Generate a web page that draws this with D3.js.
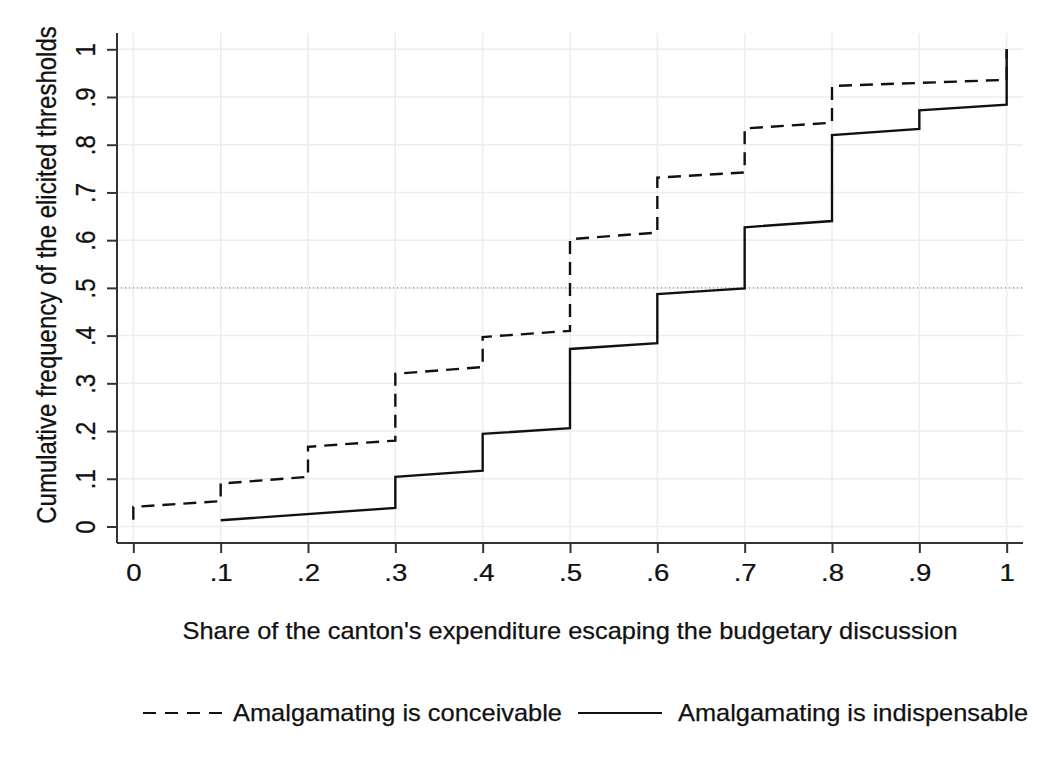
<!DOCTYPE html>
<html>
<head>
<meta charset="utf-8">
<script src="https://cdn.jsdelivr.net/npm/d3@7"></script>
<style>
  body { margin: 0; background: #fff; }
  text { font-family: "Liberation Sans", Arial, Helvetica, sans-serif; fill: #111; stroke: #111; stroke-width: 0.25px; }
</style>
</head>
<body>
<svg id="chart" width="1048" height="767"></svg>
<script>
// ticks shared by both axes
var tickValues = [0, 0.1, 0.2, 0.3, 0.4, 0.5, 0.6, 0.7, 0.8, 0.9, 1];
var tickLabels = ['0', '.1', '.2', '.3', '.4', '.5', '.6', '.7', '.8', '.9', '1'];

// "conceivable" series: jump positions, value just before and just after each jump
var conceivableX = [0, 0.1, 0.2, 0.3, 0.4, 0.5, 0.6, 0.7, 0.8, 1.0];
var conceivableBefore = [0.014, 0.053, 0.104, 0.180, 0.334, 0.410, 0.616, 0.742, 0.846, 0.936];
var conceivableAfter = [0.041, 0.090, 0.167, 0.320, 0.397, 0.602, 0.731, 0.834, 0.923, 1.0];

// "indispensable" series
var indispensableX = [0.1, 0.3, 0.4, 0.5, 0.6, 0.7, 0.8, 0.9, 1.0];
var indispensableBefore = [0.013, 0.039, 0.117, 0.206, 0.384, 0.499, 0.640, 0.833, 0.884];
var indispensableAfter = [0.013, 0.104, 0.194, 0.372, 0.487, 0.627, 0.820, 0.872, 1.0];

var seriesNames = ['Amalgamating is conceivable', 'Amalgamating is indispensable'];
var referenceLevel = 0.5;

var margin = { left: 117, right: 1023, top: 33, bottom: 543 };
var stretch = 1.15; // the source picture is a little wider than tall

var svg = d3.select('#chart');

var x = d3.scaleLinear().domain([-0.0187, 1.0187]).range([margin.left, margin.right]);
var y = d3.scaleLinear().domain([-0.0346, 1.0341]).range([margin.bottom, margin.top]);

// grid
var grid = svg.append('g');
grid.selectAll('line.h').data(tickValues).enter().append('line')
  .attr('x1', margin.left).attr('x2', margin.right)
  .attr('y1', function (d) { return y(d); }).attr('y2', function (d) { return y(d); })
  .attr('stroke', '#e8eef1').attr('stroke-width', 1.5);
grid.selectAll('line.v').data(tickValues).enter().append('line')
  .attr('y1', margin.top).attr('y2', margin.bottom)
  .attr('x1', function (d) { return x(d); }).attr('x2', function (d) { return x(d); })
  .attr('stroke', '#e8eef1').attr('stroke-width', 1.5);

// dotted reference at .5
svg.append('line')
  .attr('x1', margin.left).attr('x2', margin.right)
  .attr('y1', y(referenceLevel)).attr('y2', y(referenceLevel))
  .attr('stroke', '#8a8a8a').attr('stroke-width', 1.2)
  .attr('stroke-dasharray', '1,3');

// build step path points from jump arrays
function stepPoints(xs, before, after) {
  var pts = [];
  xs.forEach(function (xv, i) {
    pts.push([xv, before[i]]);
    pts.push([xv, after[i]]);
  });
  return pts;
}

var line = d3.line()
  .x(function (d) { return x(d[0]); })
  .y(function (d) { return y(d[1]); });

svg.append('path')
  .datum(stepPoints(conceivableX, conceivableBefore, conceivableAfter))
  .attr('d', line)
  .attr('fill', 'none').attr('stroke', '#111').attr('stroke-width', 2.4)
  .attr('stroke-dasharray', '13,8');

svg.append('path')
  .datum(stepPoints(indispensableX, indispensableBefore, indispensableAfter))
  .attr('d', line)
  .attr('fill', 'none').attr('stroke', '#111').attr('stroke-width', 2.4);

// axes
var xAxis = d3.axisBottom(x).tickValues(tickValues)
  .tickFormat(function (d, i) { return tickLabels[i]; })
  .tickSize(10).tickSizeOuter(0);
var gx = svg.append('g').attr('transform', 'translate(0,' + margin.bottom + ')').call(xAxis);
gx.select('.domain').attr('stroke', '#333').attr('stroke-width', 2)
  .attr('d', 'M' + margin.left + ',0H' + margin.right);
gx.selectAll('.tick line').attr('stroke', '#333').attr('stroke-width', 2);
gx.selectAll('.tick text').style('font-size', '24px').attr('fill', '#111')
  .attr('y', 38).attr('dy', null)
  .attr('transform', 'scale(' + stretch + ',1)');

var yAxis = d3.axisLeft(y).tickValues(tickValues)
  .tickFormat(function (d, i) { return tickLabels[i]; })
  .tickSize(10).tickSizeOuter(0);
var gy = svg.append('g').attr('transform', 'translate(' + margin.left + ',0)').call(yAxis);
gy.select('.domain').attr('stroke', '#333').attr('stroke-width', 2)
  .attr('d', 'M0,' + margin.top + 'V' + margin.bottom);
gy.selectAll('.tick line').attr('stroke', '#333').attr('stroke-width', 2);
gy.selectAll('.tick text')
  .style('font-size', '24px').attr('fill', '#111')
  .attr('x', 0).attr('dy', null)
  .attr('text-anchor', 'middle')
  .attr('transform', 'translate(-22,0) scale(' + stretch + ',1) rotate(-90)');

// axis titles
svg.append('text')
  .attr('transform', 'translate(56,275) scale(' + stretch + ',1) rotate(-90)')
  .attr('text-anchor', 'middle')
  .style('font-size', '24px')
  .text('Cumulative frequency of the elicited thresholds');

svg.append('text')
  .attr('x', (margin.left + margin.right) / 2).attr('y', 639)
  .attr('text-anchor', 'middle')
  .style('font-size', '24px')
  .attr('textLength', 775).attr('lengthAdjust', 'spacingAndGlyphs')
  .text("Share of the canton's expenditure escaping the budgetary discussion");

// legend
var legend = svg.append('g').attr('transform', 'translate(0,713)');
legend.append('line').attr('x1', 143).attr('x2', 222).attr('y1', 0).attr('y2', 0)
  .attr('stroke', '#111').attr('stroke-width', 2).attr('stroke-dasharray', '13,9');
legend.append('text').attr('x', 233).attr('y', 8).style('font-size', '24px')
  .attr('textLength', 329).attr('lengthAdjust', 'spacingAndGlyphs')
  .text(seriesNames[0]);
legend.append('line').attr('x1', 578).attr('x2', 662).attr('y1', 0).attr('y2', 0)
  .attr('stroke', '#111').attr('stroke-width', 2);
legend.append('text').attr('x', 678).attr('y', 8).style('font-size', '24px')
  .attr('textLength', 350).attr('lengthAdjust', 'spacingAndGlyphs')
  .text(seriesNames[1]);
</script>
</body>
</html>
